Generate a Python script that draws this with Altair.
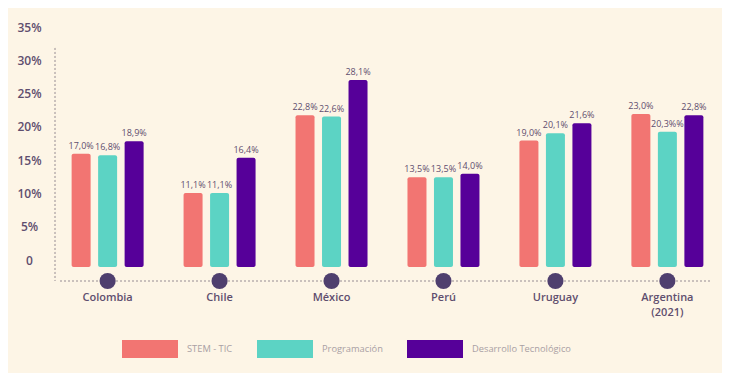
import altair as alt
import pandas as pd

countries = ["Colombia", "Chile", "México", "Perú", "Uruguay", "Argentina (2021)"]
series = ["STEM - TIC", "Programación", "Desarrollo Tecnológico"]
stem = [17.0, 11.1, 22.8, 13.5, 19.0, 23.0]
prog = [16.8, 11.1, 22.6, 13.5, 20.1, 20.3]
desa = [18.9, 16.4, 28.1, 14.0, 21.6, 22.8]
label_stem = ["17,0%", "11,1%", "22,8%", "13,5%", "19,0%", "23,0%"]
label_prog = ["16,8%", "11,1%", "22,6%", "13,5%", "20,1%", "20,3%%"]
label_desa = ["18,9%", "16,4%", "28,1%", "14,0%", "21,6%", "22,8%"]
colors = ["#F27572", "#5CD3C4", "#560099"]
y_ticks = [0, 5, 10, 15, 20, 25, 30, 35]

rows = []
for vals, labs, s in [(stem, label_stem, series[0]), (prog, label_prog, series[1]), (desa, label_desa, series[2])]:
    for c, v, l in zip(countries, vals, labs):
        rows.append({"country": c, "series": s, "value": v, "label": l})
df = pd.DataFrame(rows)
cdf = pd.DataFrame({"country": countries})

FONT = "Open Sans"
TXT = "#5F4E6E"
YMIN = -2.1

xscale = alt.Scale(domain=countries, paddingInner=0.2, paddingOuter=0.07)
yscale = alt.Scale(domain=[YMIN, 35], nice=False, zero=False)
offscale = alt.Scale(domain=series, paddingInner=0, paddingOuter=0.19)

xaxis = alt.Axis(domain=False, ticks=False, labelAngle=0, labelPadding=10,
                 labelFont=FONT, labelFontSize=11, labelFontWeight=600,
                 labelColor=TXT, labelLineHeight=15,
                 labelExpr="datum.label == 'Argentina (2021)' ? ['Argentina', '(2021)'] : datum.label")
yaxis = alt.Axis(values=y_ticks, domain=False, ticks=False, grid=False,
                 labelOverlap=False, labelFlush=False, labelBound=False,
                 labelOffset=-7, labelPadding=26, labelAlign="center",
                 labelFont=FONT, labelFontSize=12, labelFontWeight=600,
                 labelColor=TXT,
                 labelExpr="datum.value == 0 ? '0' : datum.value + '%'")

x_enc = alt.X("country:N", scale=xscale, sort=countries, title=None, axis=xaxis)
y_enc = alt.Y("value:Q", scale=yscale, title=None, axis=yaxis)

bars = alt.Chart(df).mark_bar(size=19, cornerRadius=2).encode(
    x=x_enc,
    xOffset=alt.XOffset("series:N", scale=offscale, sort=series),
    y=y_enc,
    y2=alt.datum(0),
    color=alt.Color("series:N", scale=alt.Scale(domain=series, range=colors), sort=series,
                    legend=alt.Legend(title=None, orient="none", direction="horizontal",
                                      legendX=67, legendY=287,
                                      symbolType="M-1,-0.32H1V0.32H-1Z", symbolSize=3136,
                                      symbolStrokeWidth=0, symbolOpacity=1,
                                      labelFont=FONT, labelFontSize=9.3, labelColor="#A9A0A4",
                                      labelOffset=9, columnPadding=24)),
)

texts = alt.Chart(df).mark_text(dy=-8, fontSize=9, font=FONT, color=TXT).encode(
    x=x_enc,
    xOffset=alt.XOffset("series:N", scale=offscale, sort=series),
    y=y_enc,
    text="label:N",
)

hline = alt.Chart(cdf).mark_rule(strokeDash=[2, 2], color="#C9C0BC", strokeWidth=1).encode(
    x=alt.value(5), x2=alt.value(657),
    y=alt.YDatum(YMIN, scale=yscale, axis=yaxis, title=None)
)
vline = alt.Chart(cdf).mark_rule(strokeDash=[2, 2], color="#C9C0BC", strokeWidth=1).encode(
    x=alt.value(0),
    y=alt.YDatum(32.9, scale=yscale, axis=yaxis, title=None),
    y2=alt.datum(YMIN)
)

dots = alt.Chart(cdf).mark_point(filled=True, shape="circle", size=260, color="#4F3F6E", opacity=1).encode(
    x=x_enc,
    y=alt.YDatum(YMIN, scale=yscale, axis=yaxis, title=None),
)

chart = alt.layer(vline, hline, bars, texts, dots).properties(
    width=665, height=247,
    autosize=alt.AutoSizeParams(type="none"),
    padding={"left": 47, "top": 26, "right": 2, "bottom": 92},
    background="#FDF5E6",
).configure_view(stroke=None)

chart.save("out.html", embed_options={"renderer": "svg", "actions": False})
